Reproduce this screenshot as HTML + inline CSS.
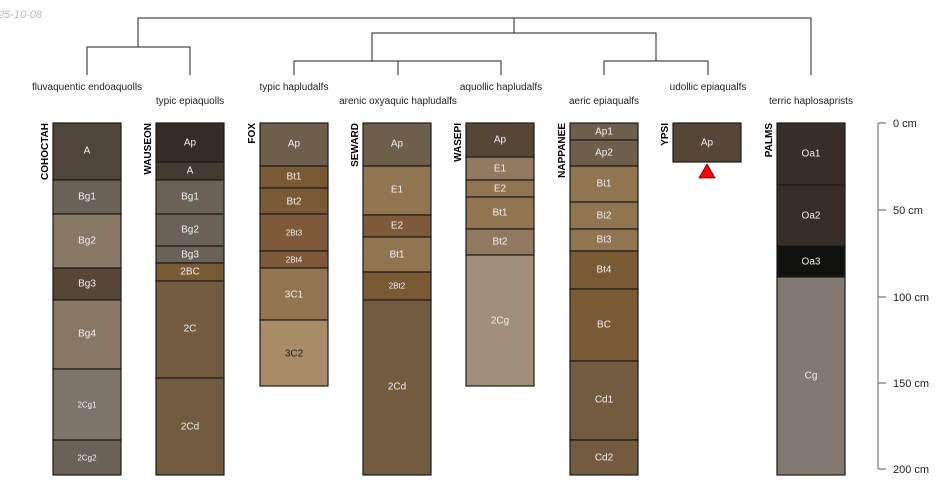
<!DOCTYPE html>
<html><head><meta charset="utf-8"><style>
html,body{margin:0;padding:0;background:#fff;width:950px;height:500px;overflow:hidden}
svg{display:block;font-family:"Liberation Sans",sans-serif}
.h text{fill:#eee;font-size:10px;text-anchor:middle;dominant-baseline:central}
.h rect{stroke:#1a1a1a;stroke-width:1.2}
.n{font-size:10px;font-weight:bold;fill:#000}
.t{font-size:10px;fill:#222;text-anchor:middle}
.d{stroke:#222;stroke-width:1;fill:none}
</style></head><body>
<svg width="950" height="500" viewBox="0 0 950 500">
<text x="-2" y="18" font-size="11" fill="#bbb" font-style="italic">25-10-08</text>
<g class="d">
<path d="M138 47V18H811V75"/>
<path d="M87 75V47H190V75"/>
<path d="M514 18V33"/>
<path d="M372 61V33H656V61"/>
<path d="M294 75V61H501V75"/>
<path d="M398 61V75"/>
<path d="M604 75V61H708V75"/>
</g>
<g class="t">
<text x="87" y="90">fluvaquentic endoaquolls</text>
<text x="190" y="104">typic epiaquolls</text>
<text x="294" y="90">typic hapludalfs</text>
<text x="398" y="104">arenic oxyaquic hapludalfs</text>
<text x="501" y="90">aquollic hapludalfs</text>
<text x="604" y="104">aeric epiaqualfs</text>
<text x="708" y="90">udollic epiaqualfs</text>
<text x="811" y="104">terric haplosaprists</text>
</g>
<g class="n">
<text transform="translate(48,123) rotate(-90)" text-anchor="end">COHOCTAH</text>
<text transform="translate(151,123) rotate(-90)" text-anchor="end">WAUSEON</text>
<text transform="translate(255,123) rotate(-90)" text-anchor="end">FOX</text>
<text transform="translate(358,123) rotate(-90)" text-anchor="end">SEWARD</text>
<text transform="translate(461,123) rotate(-90)" text-anchor="end">WASEPI</text>
<text transform="translate(565,123) rotate(-90)" text-anchor="end">NAPPANEE</text>
<text transform="translate(668,123) rotate(-90)" text-anchor="end">YPSI</text>
<text transform="translate(772,123) rotate(-90)" text-anchor="end">PALMS</text>
</g>
<g class="h">
<rect x="53" y="123" width="68" height="57" fill="#4e4438"/><text x="87" y="151">A</text>
<rect x="53" y="180" width="68" height="34" fill="#6b6257"/><text x="87" y="197">Bg1</text>
<rect x="53" y="214" width="68" height="54" fill="#887866"/><text x="87" y="241">Bg2</text>
<rect x="53" y="268" width="68" height="32" fill="#554636"/><text x="87" y="284">Bg3</text>
<rect x="53" y="300" width="68" height="69" fill="#887866"/><text x="87" y="334">Bg4</text>
<rect x="53" y="369" width="68" height="71" fill="#7e756a"/><text x="87" y="405" style="font-size:8px">2Cg1</text>
<rect x="53" y="440" width="68" height="35" fill="#6b6257"/><text x="87" y="458" style="font-size:8px">2Cg2</text>
<rect x="156" y="123" width="68" height="39" fill="#352c26"/><text x="190" y="143">Ap</text>
<rect x="156" y="162" width="68" height="18" fill="#433a31"/><text x="190" y="171">A</text>
<rect x="156" y="180" width="68" height="34" fill="#6b6257"/><text x="190" y="197">Bg1</text>
<rect x="156" y="214" width="68" height="32" fill="#6b6257"/><text x="190" y="230">Bg2</text>
<rect x="156" y="246" width="68" height="17" fill="#6b6257"/><text x="190" y="255">Bg3</text>
<rect x="156" y="263" width="68" height="18" fill="#7a5a35"/><text x="190" y="272">2BC</text>
<rect x="156" y="281" width="68" height="97" fill="#735b40"/><text x="190" y="329">2C</text>
<rect x="156" y="378" width="68" height="97" fill="#735b40"/><text x="190" y="427">2Cd</text>
<rect x="260" y="123" width="68" height="43" fill="#6e5e4c"/><text x="294" y="144">Ap</text>
<rect x="260" y="166" width="68" height="22" fill="#7a5a35"/><text x="294" y="177">Bt1</text>
<rect x="260" y="188" width="68" height="26" fill="#7a5a35"/><text x="294" y="202">Bt2</text>
<rect x="260" y="214" width="68" height="37" fill="#7e5a3a"/><text x="294" y="233" style="font-size:8px">2Bt3</text>
<rect x="260" y="251" width="68" height="17" fill="#7e5a3a"/><text x="294" y="260" style="font-size:8px">2Bt4</text>
<rect x="260" y="268" width="68" height="52" fill="#917550"/><text x="294" y="295">3C1</text>
<rect x="260" y="320" width="68" height="66" fill="#a88c67"/><text x="294" y="354" style="fill:#222">3C2</text>
<rect x="363" y="123" width="68" height="43" fill="#6e5e4c"/><text x="397" y="144">Ap</text>
<rect x="363" y="166" width="68" height="49" fill="#917550"/><text x="397" y="190">E1</text>
<rect x="363" y="215" width="68" height="22" fill="#7e5a3a"/><text x="397" y="226">E2</text>
<rect x="363" y="237" width="68" height="35" fill="#917550"/><text x="397" y="255">Bt1</text>
<rect x="363" y="272" width="68" height="28" fill="#7a5a35"/><text x="397" y="286" style="font-size:8px">2Bt2</text>
<rect x="363" y="300" width="68" height="175" fill="#735b40"/><text x="397" y="387">2Cd</text>
<rect x="466" y="123" width="68" height="34" fill="#554636"/><text x="500" y="140">Ap</text>
<rect x="466" y="157" width="68" height="23" fill="#917a60"/><text x="500" y="169">E1</text>
<rect x="466" y="180" width="68" height="17" fill="#917550"/><text x="500" y="189">E2</text>
<rect x="466" y="197" width="68" height="32" fill="#917550"/><text x="500" y="213">Bt1</text>
<rect x="466" y="229" width="68" height="26" fill="#8f7a60"/><text x="500" y="242">Bt2</text>
<rect x="466" y="255" width="68" height="131" fill="#a08f7b"/><text x="500" y="321">2Cg</text>
<rect x="570" y="123" width="68" height="17" fill="#6e5e4c"/><text x="604" y="132">Ap1</text>
<rect x="570" y="140" width="68" height="26" fill="#6e5e4c"/><text x="604" y="153">Ap2</text>
<rect x="570" y="166" width="68" height="36" fill="#917550"/><text x="604" y="184">Bt1</text>
<rect x="570" y="202" width="68" height="27" fill="#917550"/><text x="604" y="216">Bt2</text>
<rect x="570" y="229" width="68" height="22" fill="#917550"/><text x="604" y="240">Bt3</text>
<rect x="570" y="251" width="68" height="38" fill="#7a5a35"/><text x="604" y="270">Bt4</text>
<rect x="570" y="289" width="68" height="72" fill="#7a5a35"/><text x="604" y="325">BC</text>
<rect x="570" y="361" width="68" height="79" fill="#735b40"/><text x="604" y="400">Cd1</text>
<rect x="570" y="440" width="68" height="35" fill="#735b40"/><text x="604" y="458">Cd2</text>
<rect x="673" y="123" width="68" height="39" fill="#554636"/><text x="707" y="143">Ap</text>
<rect x="777" y="123" width="68" height="62" fill="#382e29"/><text x="811" y="154">Oa1</text>
<rect x="777" y="185" width="68" height="61" fill="#382e29"/><text x="811" y="216">Oa2</text>
<rect x="777" y="246" width="68" height="31" fill="#111110"/><text x="811" y="262">Oa3</text>
<rect x="777" y="277" width="68" height="198" fill="#827970"/><text x="811" y="376">Cg</text>
</g>
<polygon points="707,164 699,178 715,178" fill="#f00" stroke="#600" stroke-width="0.8"/>
<g stroke="#777" stroke-width="1.2" fill="none">
<path d="M878 123V469"/>
<path d="M878 123H886M878 210H886M878 297H886M878 383H886M878 469H886"/>
</g>
<g font-size="11" fill="#222">
<text x="893" y="127">0 cm</text>
<text x="893" y="214">50 cm</text>
<text x="893" y="301">100 cm</text>
<text x="893" y="387">150 cm</text>
<text x="893" y="473">200 cm</text>
</g>
</svg>
</body></html>
